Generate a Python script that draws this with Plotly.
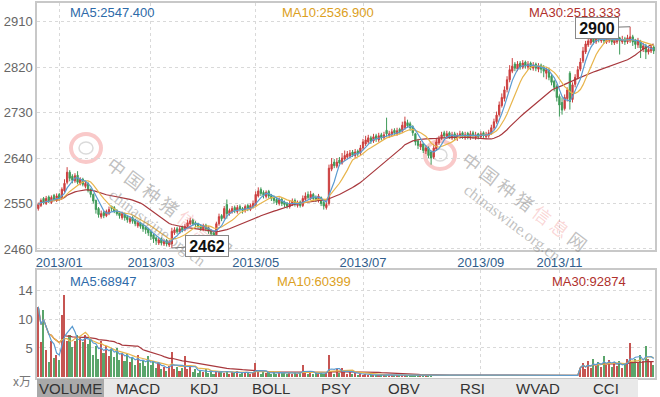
import plotly.graph_objects as go
import pandas as pd

# ---------------- data ----------------
opens = [
    2540, 2546, 2560, 2550, 2563, 2552, 2566, 2556, 2568, 2562,
    2575, 2592, 2612, 2604, 2595, 2606, 2590, 2598, 2584, 2590,
    2578, 2568, 2556, 2540, 2524, 2532, 2526, 2530, 2544, 2542,
    2536, 2532, 2522, 2530, 2524, 2514, 2522, 2518, 2506, 2512,
    2508, 2503, 2500, 2494, 2488, 2482, 2472, 2480, 2470, 2477,
    2468, 2470, 2492, 2500, 2493, 2503, 2498, 2504, 2510, 2517,
    2512, 2510, 2506, 2499, 2507, 2502, 2496, 2492, 2488, 2510,
    2526, 2522, 2548, 2530, 2534, 2542, 2534, 2544, 2540, 2536,
    2546, 2538, 2544, 2548, 2565, 2578, 2572, 2564, 2574, 2566,
    2562, 2558, 2550, 2558, 2553, 2550, 2544, 2548, 2556, 2546,
    2553, 2546, 2558, 2568, 2560, 2568, 2562, 2556, 2562, 2552,
    2542, 2550, 2618, 2632, 2624, 2636, 2630, 2638, 2642, 2644,
    2652, 2645, 2654, 2650, 2660, 2668, 2672, 2680, 2674, 2684,
    2676, 2686, 2680, 2695, 2684, 2686, 2695, 2688, 2697, 2694,
    2700, 2710, 2708, 2702, 2688, 2674, 2662, 2668, 2654, 2660,
    2652, 2642, 2658, 2670, 2680, 2690, 2682, 2690, 2680, 2688,
    2680, 2682, 2690, 2680, 2689, 2681, 2690, 2680, 2688, 2682,
    2690, 2682, 2684, 2690, 2700, 2712, 2726, 2744, 2758, 2776,
    2795, 2812, 2826, 2816, 2828, 2820, 2830, 2820, 2828, 2818,
    2826, 2816, 2824, 2820, 2808, 2814, 2802, 2792, 2782, 2762,
    2750, 2738, 2758, 2808, 2756, 2786, 2800, 2816, 2832, 2850,
    2864, 2868, 2878, 2870, 2880, 2872, 2880, 2870, 2872, 2878,
    2868, 2870, 2878, 2870, 2876, 2870, 2872, 2880, 2872, 2864,
    2870, 2856, 2862, 2850, 2852, 2860,
]
closes = [
    2548, 2556, 2552, 2560, 2555, 2562, 2558, 2565, 2560, 2578,
    2590, 2612, 2600, 2596, 2605, 2592, 2598, 2588, 2590, 2576,
    2568, 2555, 2538, 2528, 2530, 2526, 2534, 2538, 2540, 2535,
    2530, 2526, 2530, 2522, 2518, 2520, 2515, 2510, 2512, 2505,
    2500, 2498, 2492, 2485, 2480, 2476, 2478, 2472, 2475, 2470,
    2474, 2495, 2498, 2494, 2500, 2497, 2505, 2512, 2516, 2510,
    2508, 2505, 2500, 2506, 2500, 2495, 2490, 2486, 2510, 2524,
    2520, 2540, 2530, 2536, 2540, 2535, 2542, 2538, 2536, 2544,
    2540, 2546, 2550, 2568, 2575, 2570, 2566, 2572, 2565, 2560,
    2556, 2552, 2558, 2550, 2548, 2545, 2550, 2555, 2548, 2552,
    2546, 2560, 2565, 2562, 2568, 2560, 2558, 2565, 2550, 2545,
    2548, 2620, 2628, 2625, 2632, 2630, 2640, 2645, 2648, 2650,
    2646, 2652, 2648, 2660, 2672, 2676, 2680, 2674, 2682, 2678,
    2684, 2680, 2686, 2688, 2688, 2692, 2690, 2694, 2692, 2705,
    2712, 2704, 2700, 2690, 2672, 2665, 2668, 2655, 2660, 2645,
    2640, 2660, 2672, 2678, 2686, 2684, 2688, 2682, 2686, 2680,
    2685, 2688, 2683, 2686, 2682, 2688, 2684, 2686, 2682, 2688,
    2685, 2687, 2690, 2700, 2712, 2725, 2745, 2760, 2775, 2795,
    2815, 2822, 2818, 2826, 2820, 2828, 2822, 2826, 2820, 2824,
    2818, 2822, 2816, 2812, 2815, 2800, 2790, 2780, 2760, 2745,
    2735, 2760, 2775, 2752, 2785, 2800, 2815, 2830, 2852, 2866,
    2872, 2876, 2870, 2878, 2874, 2880, 2872, 2876, 2878, 2870,
    2874, 2876, 2872, 2875, 2870, 2878, 2880, 2870, 2865, 2872,
    2858, 2862, 2850, 2855, 2860, 2852,
]
highs = [
    2552, 2560, 2563, 2565, 2566, 2566, 2569, 2570, 2571, 2582,
    2598, 2622, 2616, 2608, 2610, 2614, 2602, 2601, 2594, 2592,
    2580, 2570, 2558, 2543, 2536, 2536, 2538, 2544, 2546, 2545,
    2539, 2535, 2534, 2532, 2527, 2525, 2525, 2520, 2516, 2514,
    2510, 2506, 2502, 2496, 2490, 2485, 2482, 2483, 2479, 2480,
    2478, 2502, 2503, 2504, 2505, 2506, 2510, 2518, 2522, 2520,
    2515, 2512, 2509, 2510, 2510, 2505, 2499, 2495, 2514, 2530,
    2529, 2545, 2558, 2540, 2545, 2546, 2547, 2548, 2543, 2548,
    2549, 2550, 2556, 2574, 2582, 2582, 2576, 2576, 2577, 2569,
    2566, 2562, 2562, 2561, 2556, 2553, 2555, 2560, 2560, 2556,
    2556, 2566, 2572, 2574, 2575, 2571, 2566, 2569, 2564, 2555,
    2553, 2627, 2640, 2638, 2640, 2642, 2650, 2655, 2654, 2656,
    2656, 2658, 2657, 2666, 2678, 2684, 2686, 2684, 2688, 2688,
    2690, 2690, 2692, 2720, 2694, 2698, 2699, 2700, 2700, 2712,
    2722, 2716, 2712, 2705, 2690, 2678, 2674, 2670, 2666, 2663,
    2655, 2668, 2678, 2684, 2692, 2694, 2694, 2693, 2692, 2692,
    2690, 2694, 2693, 2692, 2692, 2694, 2694, 2692, 2690, 2693,
    2693, 2692, 2696, 2706, 2718, 2732, 2752, 2768, 2782, 2802,
    2824, 2838, 2830, 2832, 2832, 2834, 2833, 2832, 2831, 2830,
    2829, 2828, 2827, 2824, 2820, 2818, 2806, 2795, 2786, 2766,
    2760, 2766, 2780, 2812, 2790, 2806, 2822, 2838, 2860, 2872,
    2878, 2882, 2882, 2884, 2883, 2886, 2884, 2882, 2884, 2881,
    2880, 2882, 2880, 2882, 2880, 2884, 2900, 2884, 2876, 2878,
    2874, 2868, 2866, 2860, 2866, 2864,
]
lows = [
    2536, 2543, 2548, 2547, 2551, 2549, 2554, 2553, 2556, 2558,
    2572, 2588, 2594, 2590, 2591, 2588, 2586, 2584, 2580, 2572,
    2562, 2550, 2530, 2522, 2520, 2521, 2523, 2527, 2534, 2531,
    2526, 2520, 2518, 2516, 2512, 2510, 2510, 2505, 2502, 2500,
    2494, 2490, 2486, 2478, 2472, 2468, 2468, 2467, 2466, 2465,
    2464, 2462, 2488, 2490, 2490, 2493, 2495, 2501, 2507, 2506,
    2503, 2500, 2496, 2496, 2495, 2490, 2484, 2480, 2485, 2506,
    2515, 2519, 2520, 2526, 2530, 2531, 2530, 2534, 2530, 2532,
    2535, 2535, 2540, 2545, 2562, 2565, 2560, 2560, 2560, 2555,
    2550, 2547, 2546, 2545, 2543, 2540, 2540, 2545, 2544, 2542,
    2542, 2543, 2555, 2558, 2557, 2556, 2553, 2552, 2545, 2538,
    2538, 2546, 2614, 2620, 2620, 2624, 2627, 2634, 2638, 2640,
    2642, 2640, 2643, 2646, 2656, 2664, 2668, 2668, 2670, 2672,
    2672, 2675, 2676, 2682, 2680, 2682, 2686, 2684, 2687, 2690,
    2696, 2700, 2694, 2684, 2665, 2658, 2656, 2650, 2648, 2640,
    2627, 2638, 2654, 2666, 2676, 2680, 2678, 2678, 2676, 2675,
    2674, 2678, 2678, 2676, 2677, 2676, 2678, 2676, 2677, 2678,
    2680, 2678, 2680, 2686, 2696, 2708, 2722, 2740, 2752, 2770,
    2790, 2808, 2812, 2812, 2815, 2816, 2817, 2815, 2814, 2813,
    2812, 2810, 2808, 2800, 2796, 2794, 2784, 2772, 2752, 2722,
    2726, 2734, 2752, 2736, 2750, 2780, 2796, 2812, 2828, 2846,
    2860, 2864, 2865, 2866, 2869, 2868, 2866, 2866, 2868, 2864,
    2864, 2866, 2845, 2866, 2864, 2866, 2868, 2862, 2856, 2858,
    2838, 2850, 2836, 2845, 2848, 2846,
]
# volume in units of 万 (10,000); no volume data during the gap
vol_before_gap = [
    11.7, 5.8, 11.2, 4.5, 2.4, 6.0, 3.1, 3.7, 2.8, 10.4,
    13.7, 6.0, 7.0, 5.0, 6.0, 7.0, 6.5, 5.8, 7.0, 5.5,
    6.2, 3.6, 5.2, 3.0, 6.0, 4.0, 5.2, 3.5, 4.6, 3.2,
    4.8, 2.8, 4.0, 2.6, 3.8, 2.4, 3.2, 2.0, 3.6, 2.2,
    2.8, 1.8, 3.4, 2.0, 2.6, 1.4, 2.2, 1.2, 1.6, 1.0,
    1.8, 4.2, 1.2, 1.6, 1.0, 1.4, 3.4, 1.2, 1.6, 0.8,
    1.2, 0.6, 1.0, 0.8, 1.2, 0.6, 0.9, 0.5, 1.0, 0.7,
    1.0, 0.6, 0.9, 0.5, 0.8, 0.6, 0.9, 0.5, 0.8, 0.6,
    0.7, 0.5, 0.8, 2.2, 0.7, 0.5, 0.8, 0.6, 0.7, 0.5,
    0.8, 0.5, 0.7, 0.6, 0.8, 0.5, 0.6, 0.4, 0.7, 0.5,
    0.6, 2.0, 0.6, 0.4, 0.7, 0.5, 0.6, 0.4, 0.8, 0.5,
    0.6, 3.6, 0.8, 0.5, 1.2, 0.6, 1.4, 0.8, 0.5, 1.0,
    0.4, 0.6, 0.3, 0.5, 0.3, 0.4, 0.2, 0.3, 0.2, 0.3,
    0.2, 0.3, 0.2, 0.3, 0.2, 0.2, 0.3, 0.2, 0.2, 0.3,
    0.2, 0.2, 0.3, 0.2, 0.2, 0.3, 0.2, 0.2, 0.2, 0.2,
    0.2,
]
gap_days = 56
vol_after_gap = [
    1.5, 2.2, 1.2,
    2.6, 1.4, 3.0, 1.8, 2.4, 1.6, 3.4, 2.0, 2.8, 1.6,
    2.4, 1.8, 2.6, 1.4, 2.2, 3.0, 5.6, 2.4, 3.0, 2.2,
    3.6, 2.6, 5.2, 3.0, 2.4, 2.0,
]
volumes = vol_before_gap + [None] * gap_days + vol_after_gap

month_idx = [8, 43, 83, 124, 169, 199]
month_labels = ["2013/01", "2013/03", "2013/05", "2013/07", "2013/09", "2013/11"]
price_ticks = [2460, 2550, 2640, 2730, 2820, 2910]
vol_tickvals = [4.8, 9.6, 14.4]
vol_ticktext = ["5", "10", "14"]
price_header = ["MA5:2547.400", "MA10:2536.900", "MA30:2518.333"]
vol_header = ["MA5:68947", "MA10:60399", "MA30:92874"]
tab_labels = ["VOLUME", "MACD", "KDJ", "BOLL", "PSY", "OBV", "RSI", "WVAD", "CCI"]
high_mark = (226, 2900)
low_mark = (51, 2462)

# ---------------- derived ----------------
n = len(closes)
idx = list(range(n))
cs = pd.Series(closes, dtype=float)
ma5 = cs.rolling(5, min_periods=1).mean()
ma10 = cs.rolling(10, min_periods=1).mean()
ma30 = cs.rolling(30, min_periods=1).mean()
vs = pd.Series(volumes, dtype=float)
vma5 = vs.rolling(5, min_periods=1).mean().ffill()
vma10 = vs.rolling(10, min_periods=1).mean().ffill()
vma30 = vs.rolling(30, min_periods=1).mean().ffill()

RED, GREEN = "#cc3f3f", "#3e9a58"
VRED, VGREEN = "#c65552", "#5aa56b"
C5, C10, C30 = "#5b9bd0", "#e8b54c", "#a8383d"
T5, T10, T30 = "#2d6aa8", "#dca022", "#b0302c"
FONT = "Liberation Sans, Arial, sans-serif"

# ---------------- geometry helpers (pixel -> paper) ----------------
W, H = 660, 397
ML, MR, MT, MB = 37, 5, 3, 19
PW, PH = W - ML - MR, H - MT - MB
def xp(px):
    return (px - ML) / PW
def yp(py):
    return (H - MB - py) / PH

fig = go.Figure()

fig.add_trace(go.Candlestick(
    x=idx, open=opens, high=highs, low=lows, close=closes,
    increasing=dict(line=dict(color=RED, width=1), fillcolor=RED),
    decreasing=dict(line=dict(color=GREEN, width=1), fillcolor=GREEN),
    whiskerwidth=0, hoverinfo="skip", xaxis="x", yaxis="y",
))
for s, c in [(ma30, C30), (ma10, C10), (ma5, C5)]:
    fig.add_trace(go.Scatter(x=idx, y=s, mode="lines", line=dict(color=c, width=1.2),
                             hoverinfo="skip", xaxis="x", yaxis="y"))

vcolors = [VRED if closes[i] >= opens[i] else VGREEN for i in idx]
fig.add_trace(go.Bar(x=idx, y=volumes, marker=dict(color=vcolors, line=dict(width=0)),
                     width=0.6, hoverinfo="skip", xaxis="x2", yaxis="y2"))
for s, c in [(vma30, C30), (vma10, C10), (vma5, C5)]:
    fig.add_trace(go.Scatter(x=idx, y=s, mode="lines", line=dict(color=c, width=1.2),
                             hoverinfo="skip", xaxis="x2", yaxis="y2"))

grid = dict(showgrid=True, gridcolor="#d9d9d9", griddash="3px,3px", gridwidth=1,
            showline=True, mirror=True, linecolor="#c8c8c8", linewidth=1.5,
            zeroline=False, ticks="")
xr = [-0.5, n - 0.5]

annotations = []
# headers
for txt, px_, col in zip(price_header, [68, 280, 527], [T5, T10, T30]):
    annotations.append(dict(text=txt, x=xp(px_), y=yp(12), xref="paper", yref="paper",
                            xanchor="left", yanchor="middle", showarrow=False,
                            font=dict(family=FONT, size=13, color=col)))
for txt, px_, col in zip(vol_header, [68, 275, 550], [T5, T10, T30]):
    annotations.append(dict(text=txt, x=xp(px_), y=yp(281), xref="paper", yref="paper",
                            xanchor="left", yanchor="middle", showarrow=False,
                            font=dict(family=FONT, size=13, color=col)))
annotations.append(dict(text="x万", x=xp(33), y=yp(380), xref="paper", yref="paper",
                        xanchor="right", yanchor="middle", showarrow=False,
                        font=dict(family="Noto Sans CJK SC, " + FONT, size=12, color="#777")))
# tabs
for txt, cx in zip(tab_labels, [70, 138, 204, 271, 336, 404, 472, 538, 606]):
    annotations.append(dict(text=txt, x=xp(cx), y=yp(388), xref="paper", yref="paper",
                            xanchor="center", yanchor="middle", showarrow=False,
                            font=dict(family=FONT, size=15, color="#333")))
# watermarks
wm_cn = ('中 国 种 猪 <span style="color:rgba(235,90,90,0.5)">信 息</span> 网')
for dx in [0, 355]:
    annotations.append(dict(text=wm_cn, x=xp(170 + dx), y=yp(206 - (5 if dx else 0)),
                            xref="paper", yref="paper", xanchor="center", yanchor="middle",
                            showarrow=False, textangle=37,
                            font=dict(family="Noto Sans CJK SC", size=18,
                                      color="rgba(130,130,130,0.5)")))
    annotations.append(dict(text="chinaswine.org.cn", x=xp(157 + dx), y=yp(228 - (5 if dx else 0)),
                            xref="paper", yref="paper", xanchor="center", yanchor="middle",
                            showarrow=False, textangle=37,
                            font=dict(family="Liberation Serif, serif", size=16,
                                      color="rgba(130,130,130,0.5)")))
# extreme markers
for (mx, my), ax, ay in [(high_mark, -33, 1), (low_mark, 35, -2)]:
    annotations.append(dict(text="<b>%d</b>" % my, x=mx, y=my, xref="x", yref="y",
                            showarrow=True, arrowhead=0, arrowwidth=1, arrowcolor="#777",
                            ax=ax, ay=ay, standoff=0,
                            bgcolor="white", bordercolor="#888", borderwidth=1, borderpad=1,
                            width=40, height=18,
                            font=dict(family=FONT, size=16, color="#111")))

shapes = [
    dict(type="rect", xref="paper", yref="paper", x0=xp(37), x1=xp(638), y0=yp(397), y1=yp(379),
         fillcolor="#e9e9e9", line=dict(width=0), layer="above"),
    dict(type="rect", xref="paper", yref="paper", x0=xp(37), x1=xp(104), y0=yp(397), y1=yp(379),
         fillcolor="#a9a9a9", line=dict(width=0), layer="above"),
]
for cx, cy in [(86, 148), (440, 155)]:
    shapes.append(dict(type="circle", xref="paper", yref="paper",
                       x0=xp(cx - 15), x1=xp(cx + 15), y0=yp(cy + 14), y1=yp(cy - 14),
                       line=dict(color="rgba(240,120,120,0.4)", width=4), layer="below"))
    shapes.append(dict(type="circle", xref="paper", yref="paper",
                       x0=xp(cx - 7), x1=xp(cx + 7), y0=yp(cy + 6), y1=yp(cy - 6),
                       line=dict(color="rgba(150,150,150,0.35)", width=1.5), layer="below"))

fig.update_layout(
    width=W, height=H, margin=dict(l=ML, r=MR, t=MT, b=MB, autoexpand=False),
    paper_bgcolor="white", plot_bgcolor="white", showlegend=False,
    font=dict(family=FONT), hovermode=False,
    xaxis=dict(domain=[0, 1], anchor="y", range=xr, tickvals=month_idx, ticktext=month_labels,
               tickfont=dict(family=FONT, size=13, color="#2f5d8c"), rangeslider=dict(visible=False),
               **grid),
    yaxis=dict(domain=[yp(250), 1], anchor="x", range=[2458, 2947], tickvals=price_ticks,
               tickfont=dict(family=FONT, size=13, color="#666"), **grid),
    xaxis2=dict(domain=[0, 1], anchor="y2", range=xr, tickvals=month_idx, showticklabels=False,
                **grid),
    yaxis2=dict(domain=[0, yp(270)], anchor="x2", range=[-0.25, 17.9], tickvals=vol_tickvals,
                ticktext=vol_ticktext, tickfont=dict(family=FONT, size=13, color="#666"), **grid),
    annotations=annotations, shapes=shapes, bargap=0,
)

fig.write_html("out.html", config={"displayModeBar": False},
               post_script="document.body.style.margin='0';document.body.style.overflow='hidden';")
